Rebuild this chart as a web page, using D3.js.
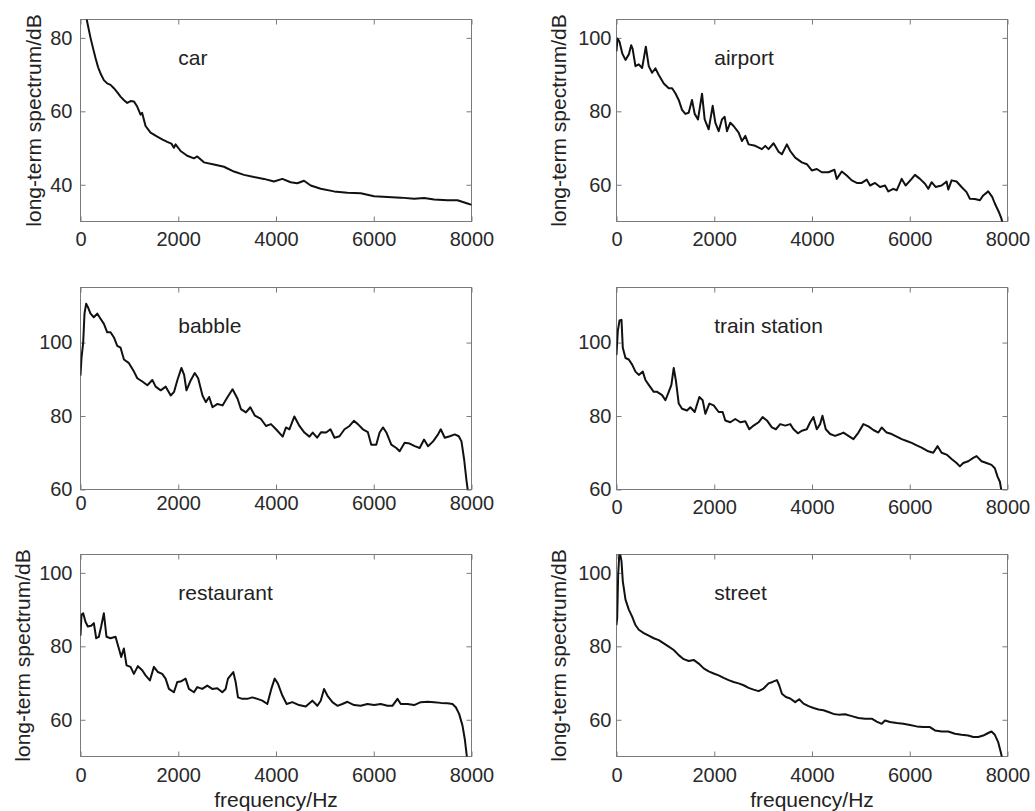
<!DOCTYPE html>
<html>
<head>
<meta charset="utf-8">
<script src="https://cdn.jsdelivr.net/npm/d3@7"></script>
<style>
  html, body { margin: 0; padding: 0; background: #fff; }
  svg { display: block; }
  text { font-family: "Liberation Sans", Arial, sans-serif; }
</style>
</head>
<body>
<svg id="chart" width="1035" height="811"></svg>
<script>
// ---------------- data (frequency/Hz, long-term spectrum/dB) ----------------
const xTicks = [0, 2000, 4000, 6000, 8000];
const panelTitles = ["car", "airport", "babble", "train station", "restaurant", "street"];
const yTicksCar = [40, 60, 80];
const yTicksOther = [60, 80, 100];
const yDomains = [[30, 85], [50, 105], [60, 115], [60, 115], [50, 105], [50, 105]];

const carSpectrum = [[100,87],[120,85.5],[150,83.5],[205,80],[260,77],[307,74.5],[360,72],[410,70.3],[478,68.5],[546,67.6],[615,67.2],[683,66.3],[750,65.2],[819,64],[890,63],[956,62.3],[1024,62.8],[1092,62.7],[1160,61.3],[1229,59.1],[1260,59.6],[1331,56],[1433,54.2],[1570,53.1],[1680,52.3],[1775,51.7],[1860,51.2],[1911,50.1],[1945,51],[2048,49.2],[2184,47.9],[2321,47.2],[2389,47.7],[2526,46.1],[2730,45.5],[2935,44.9],[3140,43.6],[3345,42.7],[3549,42.1],[3754,41.6],[3959,40.9],[4130,41.6],[4300,40.7],[4437,40.4],[4573,41.1],[4710,39.8],[4915,38.9],[5188,38.2],[5461,37.8],[5734,37.7],[5870,37.3],[6007,36.9],[6280,36.7],[6553,36.5],[6826,36.2],[7031,36.4],[7235,36.0],[7509,35.8],[7713,35.8],[7918,34.9],[7990,34.6]];

const airportSpectrum = [[0,96.5],[20,99.8],[60,99.0],[120,95.7],[184,94.0],[252,95.5],[300,98.0],[330,97.0],[388,92.3],[456,92.8],[524,91.8],[560,94.5],[600,97.6],[660,92.3],[728,90.5],[797,91.7],[865,89.9],[967,87.6],[1069,86.3],[1137,86.3],[1205,84.9],[1273,83.1],[1341,80.4],[1409,79.3],[1477,79.6],[1545,83.1],[1600,79.3],[1668,77.8],[1750,84.8],[1804,77.8],[1886,75.1],[1968,81.5],[2022,76.9],[2090,74.6],[2158,77.8],[2213,78.5],[2260,74.6],[2328,76.9],[2396,76.0],[2499,74.2],[2567,71.9],[2635,73.3],[2703,71.0],[2839,70.6],[2975,69.7],[3043,70.6],[3111,69.7],[3214,71.3],[3316,69.0],[3384,68.3],[3486,71.0],[3554,69.2],[3656,67.4],[3792,66.1],[3894,65.6],[3996,63.9],[4098,64.3],[4200,63.4],[4337,63.4],[4459,64.1],[4507,61.6],[4609,63.6],[4711,62.5],[4814,61.2],[4916,60.5],[5018,60.5],[5120,61.4],[5188,59.8],[5290,60.5],[5392,59.4],[5494,59.8],[5562,58.2],[5664,58.9],[5733,58.5],[5835,61.6],[5916,59.8],[6039,61.6],[6107,62.7],[6209,61.6],[6311,60.3],[6379,58.9],[6447,60.7],[6529,59.4],[6652,59.8],[6754,60.9],[6788,58.7],[6856,61.2],[6958,60.9],[7060,59.4],[7162,58.0],[7231,56.2],[7333,56.1],[7435,55.8],[7503,57.1],[7605,58.2],[7687,56.7],[7741,54.9],[7823,52.6],[7878,50.7],[7920,48]];

const babbleSpectrum = [[0,91.2],[20,95.8],[55,100],[82,107.9],[116,110.6],[150,109.7],[205,107.9],[273,106.9],[342,107.9],[410,106.5],[479,105.1],[547,102.8],[615,102.8],[684,101.4],[752,99.1],[820,98.6],[889,95.4],[991,94.4],[1094,92.1],[1162,90.3],[1265,89.4],[1368,88.4],[1470,89.8],[1538,88.0],[1641,87.0],[1744,88.0],[1846,85.6],[1915,86.6],[1983,89.8],[2065,93.1],[2120,91.2],[2168,87.0],[2243,89.4],[2338,91.7],[2407,90.3],[2496,85.6],[2564,83.8],[2632,85.2],[2701,82.4],[2803,83.3],[2906,82.9],[3009,85.2],[3111,87.3],[3214,84.7],[3282,81.9],[3385,81.0],[3474,82.4],[3569,80.1],[3692,79.2],[3795,77.3],[3897,77.8],[4000,76.4],[4137,74.4],[4205,76.9],[4274,76.4],[4376,79.9],[4479,77.3],[4581,75.5],[4684,74.4],[4752,75.5],[4841,74.1],[4923,75.6],[5026,75.5],[5115,76.4],[5197,74.1],[5299,74.5],[5402,76.4],[5504,77.3],[5593,78.7],[5675,77.8],[5778,76.4],[5880,75.6],[5949,72.2],[6051,72.2],[6120,75.5],[6188,76.9],[6256,75.6],[6359,72.2],[6462,71.3],[6530,70.4],[6632,72.7],[6735,72.5],[6838,71.8],[6940,71.3],[7029,73.6],[7111,71.8],[7214,73.1],[7316,75.0],[7371,76.4],[7453,74.1],[7556,74.5],[7658,75.0],[7740,74.5],[7795,73.1],[7850,68.1],[7897,62.5],[7932,59.0]];

const trainStationSpectrum = [[0,96.8],[27,103.2],[61,106],[102,106.2],[129,98.6],[184,95.8],[252,95.4],[320,94.0],[388,92.1],[456,91.2],[538,92.1],[592,89.8],[660,88.5],[762,86.6],[831,86.6],[933,85.7],[1001,84.3],[1069,86.6],[1123,88.5],[1171,93.1],[1218,89.4],[1273,83.4],[1341,82.0],[1443,81.5],[1511,82.4],[1600,81.1],[1695,85.2],[1763,84.3],[1818,80.6],[1900,83.4],[1988,82.9],[2090,81.1],[2172,81.1],[2226,78.8],[2328,78.3],[2430,79.2],[2533,78.3],[2635,78.6],[2717,76.4],[2805,77.4],[2907,78.3],[2989,79.7],[3077,78.8],[3179,76.9],[3261,76.4],[3350,77.8],[3452,77.4],[3554,77.8],[3622,76.4],[3711,75.3],[3792,76.0],[3894,76.4],[3962,78.3],[4030,79.7],[4098,76.4],[4166,77.8],[4214,80.1],[4282,76.4],[4371,75.1],[4473,74.6],[4575,75.1],[4643,75.5],[4745,74.6],[4848,73.7],[4950,75.5],[5052,77.8],[5154,77.2],[5256,76.2],[5358,75.5],[5426,76.9],[5528,75.5],[5630,75.1],[5733,74.4],[5835,73.7],[5937,73.2],[6039,72.7],[6141,72.0],[6243,71.4],[6379,70.4],[6481,70.0],[6570,71.8],[6652,70.0],[6754,69.5],[6856,68.3],[6958,67.2],[7026,66.3],[7094,67.2],[7197,67.7],[7299,68.6],[7367,69.1],[7469,67.7],[7571,67.2],[7673,66.7],[7741,65.8],[7796,63.5],[7844,62.1],[7878,59.5]];

const restaurantSpectrum = [[0,83.1],[20,88.6],[55,89.0],[102,86.7],[150,85.4],[218,85.6],[273,86.3],[321,82.2],[375,82.6],[423,85.4],[478,89.0],[532,82.6],[614,82.2],[717,82.6],[785,79.4],[833,77.1],[887,79.4],[942,74.8],[1024,74.4],[1092,72.5],[1174,74.6],[1263,73.5],[1331,72.1],[1420,70.7],[1502,74.4],[1584,73.0],[1672,72.5],[1741,71.2],[1809,68.4],[1911,67.5],[1980,70.3],[2048,70.4],[2150,71.2],[2218,68.4],[2321,67.5],[2389,68.9],[2491,68.4],[2594,69.3],[2696,68.4],[2799,68.6],[2901,67.5],[2969,68.4],[3017,71.2],[3072,72.1],[3126,73.0],[3174,70.3],[3222,66.1],[3311,65.7],[3413,65.7],[3515,66.1],[3618,65.7],[3720,65.2],[3823,64.3],[3904,68.4],[3973,71.2],[4041,69.8],[4130,66.6],[4218,64.3],[4334,64.8],[4471,64.0],[4608,63.6],[4744,65.2],[4846,63.8],[4915,65.2],[4983,68.4],[5051,66.6],[5154,64.8],[5256,63.8],[5358,64.3],[5461,64.9],[5597,64.0],[5734,63.8],[5870,64.3],[6007,64.0],[6143,64.3],[6280,63.8],[6382,63.8],[6485,65.7],[6553,64.3],[6689,64.3],[6826,64.0],[6962,64.8],[7099,64.9],[7235,64.8],[7372,64.6],[7509,64.5],[7611,64.3],[7679,63.4],[7747,61.6],[7816,58.4],[7863,54.7],[7904,50.1],[7930,47]];

const streetSpectrum = [[0,86],[14,87.7],[34,99.5],[61,106],[102,103.2],[129,97.7],[184,92.7],[252,90.0],[320,88.1],[388,85.8],[456,84.5],[558,83.6],[660,82.9],[762,82.2],[865,81.7],[967,80.8],[1069,79.9],[1171,79.0],[1273,77.6],[1375,76.5],[1477,76.0],[1579,76.3],[1682,75.3],[1784,74.0],[1886,73.2],[1988,72.6],[2090,72.1],[2192,71.4],[2294,70.8],[2396,70.3],[2499,69.9],[2601,69.4],[2703,68.7],[2805,68.2],[2907,67.8],[3009,68.5],[3111,69.9],[3193,70.3],[3282,70.8],[3329,69.4],[3384,67.1],[3466,66.2],[3554,65.8],[3656,64.8],[3738,65.6],[3827,64.4],[3929,63.7],[4031,63.2],[4133,62.8],[4235,62.6],[4337,62.1],[4439,61.6],[4541,61.4],[4677,61.5],[4814,61.0],[4950,60.5],[5086,60.3],[5222,60.3],[5324,59.5],[5426,58.9],[5494,59.8],[5596,59.4],[5733,59.1],[5869,58.9],[6005,58.6],[6141,58.2],[6277,58.0],[6413,58.0],[6516,57.1],[6652,56.8],[6788,56.8],[6924,56.2],[7060,55.9],[7197,55.7],[7299,55.3],[7401,55.3],[7503,55.7],[7605,56.4],[7673,56.8],[7741,55.9],[7810,53.9],[7864,51.1],[7891,49.5],[7910,48]];

const seriesList = [carSpectrum, airportSpectrum, babbleSpectrum, trainStationSpectrum, restaurantSpectrum, streetSpectrum];
const yTickSets = [yTicksCar, yTicksOther, yTicksOther, yTicksOther, yTicksOther, yTicksOther];

// ---------------- layout ----------------
const colLeft = [80, 616];
const rowTop = [19, 287, 554];
const W = 391, H = 202;
const showYLabel = [true, true, false, false, true, true];
const showXLabel = [false, false, false, false, true, true];
const xLabelOffset = [24, 24, 20, 24, 25, 25];
const yTickGap = [8, 5];

const svg = d3.select("#chart");

seriesList.forEach((data, i) => {
  const col = i % 2, row = Math.floor(i / 2);
  const left = colLeft[col], top = rowTop[row];
  const x = d3.scaleLinear().domain([0, 8000]).range([0, W]);
  const y = d3.scaleLinear().domain(yDomains[i]).range([H, 0]);

  const g = svg.append("g").attr("transform", `translate(${left + 0.5},${top + 0.5})`);

  g.append("clipPath").attr("id", "clip" + i)
    .append("rect").attr("x", 0).attr("y", 0).attr("width", W).attr("height", H);

  // axes (inward ticks on all four sides)
  const styleAxis = sel => {
    sel.select(".domain").remove();
    sel.selectAll(".tick line").attr("stroke", "#7a7a7a");
    sel.selectAll(".tick text").attr("fill", "#2a2a2a").style("font-size", "20px");
  };
  g.append("g").attr("transform", `translate(0,${H})`)
    .call(d3.axisBottom(x).tickValues(xTicks).tickSizeInner(-5).tickSizeOuter(0)
      .tickPadding(xLabelOffset[i] - 14).tickFormat(d3.format("d")))
    .call(styleAxis);
  g.append("g")
    .call(d3.axisTop(x).tickValues(xTicks).tickSizeInner(-5).tickSizeOuter(0).tickFormat(""))
    .call(styleAxis);
  g.append("g")
    .call(d3.axisLeft(y).tickValues(yTickSets[i]).tickSizeInner(-5).tickSizeOuter(0)
      .tickPadding(yTickGap[col]).tickFormat(d3.format("d")))
    .call(styleAxis);
  g.append("g").attr("transform", `translate(${W},0)`)
    .call(d3.axisRight(y).tickValues(yTickSets[i]).tickSizeInner(-5).tickSizeOuter(0).tickFormat(""))
    .call(styleAxis);

  // box
  g.append("rect").attr("x", 0).attr("y", 0).attr("width", W).attr("height", H)
    .attr("fill", "none").attr("stroke", "#7a7a7a").attr("stroke-width", 1);

  // line
  const line = d3.line().x(d => x(d[0])).y(d => y(d[1]));
  g.append("path").datum(data)
    .attr("clip-path", `url(#clip${i})`)
    .attr("d", line)
    .attr("fill", "none").attr("stroke", "#111").attr("stroke-width", 2)
    .attr("stroke-linejoin", "round").attr("stroke-linecap", "round");

  // panel title
  g.append("text").attr("x", x(2000)).attr("y", 45)
    .attr("fill", "#222").style("font-size", "21px").text(panelTitles[i]);

  // y label
  if (showYLabel[i]) {
    const off = yTickSets[i][yTickSets[i].length - 1] >= 100 ? 51 : 40;
    g.append("text")
      .attr("transform", `translate(${-off},${H / 2}) rotate(-90)`)
      .attr("text-anchor", "middle").attr("fill", "#222").style("font-size", "21px")
      .text("long-term spectrum/dB");
  }
  // x label
  if (showXLabel[i]) {
    g.append("text").attr("x", W / 2).attr("y", 806 - top)
      .attr("text-anchor", "middle").attr("fill", "#222").style("font-size", "21px")
      .text("frequency/Hz");
  }
});
</script>
</body>
</html>
